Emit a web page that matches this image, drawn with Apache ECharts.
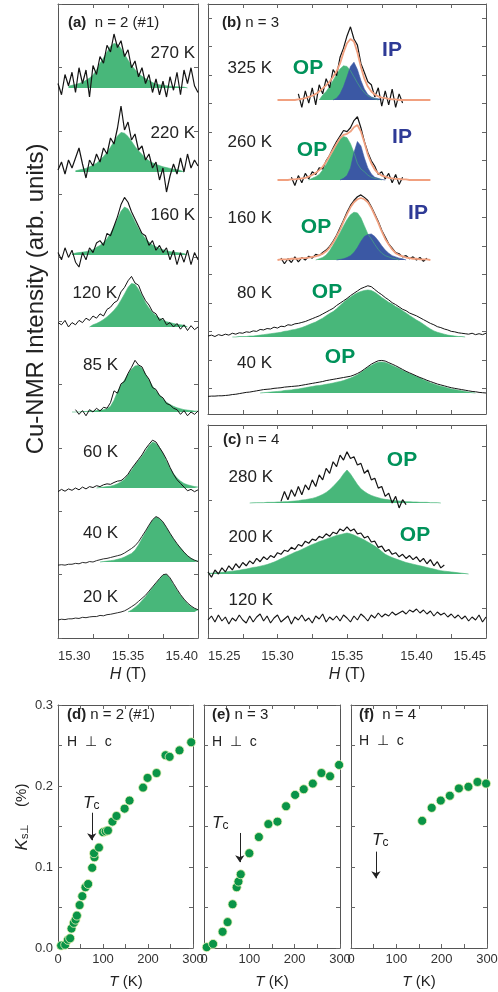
<!DOCTYPE html>
<html><head><meta charset="utf-8">
<script src="https://cdn.jsdelivr.net/npm/echarts@6/dist/echarts.min.js"></script>
<style>html,body{margin:0;padding:0;background:#fff}#c{width:498px;height:992px}</style>
</head><body><div id="c"></div>
<script>
// ---------- field grids (T) ----------
const Ha = [15.3000,15.3025,15.3050,15.3075,15.3100,15.3125,15.3150,15.3175,15.3200,15.3225,
15.3250,15.3275,15.3300,15.3325,15.3350,15.3375,15.3400,15.3425,15.3450,15.3475,
15.3500,15.3525,15.3550,15.3575,15.3600,15.3625,15.3650,15.3675,15.3700,15.3725,
15.3750,15.3775,15.3800,15.3825,15.3850,15.3875,15.3900,15.3925,15.3950,15.3975,
15.4000];
const Hb = [15.2500,15.2525,15.2550,15.2575,15.2600,15.2625,15.2650,15.2675,15.2700,15.2725,
15.2750,15.2775,15.2800,15.2825,15.2850,15.2875,15.2900,15.2925,15.2950,15.2975,
15.3000,15.3025,15.3050,15.3075,15.3100,15.3125,15.3150,15.3175,15.3200,15.3225,
15.3250,15.3275,15.3300,15.3325,15.3350,15.3375,15.3400,15.3425,15.3450,15.3475,
15.3500,15.3525,15.3550,15.3575,15.3600,15.3625,15.3650,15.3675,15.3700,15.3725,
15.3750,15.3775,15.3800,15.3825,15.3850,15.3875,15.3900,15.3925,15.3950,15.3975,
15.4000,15.4025,15.4050,15.4075,15.4100,15.4125,15.4150,15.4175,15.4200,15.4225,
15.4250,15.4275,15.4300,15.4325,15.4350,15.4375,15.4400,15.4425,15.4450,15.4475,
15.4500];

// ---------- panel (a) n=2 : intensity (% of fit peak); first sample index in Ha ----------
const a270fit = [4,6,8,10,13,17,22,29,40,55,67,80,93,99,97,88,75,62,50,41,32,26,21,17,12,9,7,6,5,4,3,3,2,2,0]; // from 3
const a270obs = [10,-15,30,5,35,-10,45,10,40,-20,50,30,70,55,95,80,120,90,105,70,85,45,60,25,45,10,30,-10,20,-15,15,-20,25,-5,35,-15,40,10,45,5,-10];
const a220fit = [3,5,7,9,13,17,22,30,39,49,62,76,90,99,97,89,77,64,53,44,35,28,23,19,16,13,11,9,7,6,4,0]; // from 5
const a220obs = [5,25,-5,30,10,35,60,20,-15,30,15,45,25,60,45,85,70,110,165,105,125,80,95,55,65,30,45,10,25,-20,10,-50,-10,20,-5,35,0,45,10,30,15];
const a160fit = [2,4,5,6,7,9,11,16,20,26,34,45,59,75,91,100,96,84,69,55,44,34,27,21,17,14,11,9,7,6,5,4,3,0]; // from 4
const a160obs = [5,-10,15,-5,10,-15,-25,5,-10,15,5,25,30,20,45,40,60,80,105,120,110,90,75,60,45,40,20,30,10,20,5,15,-10,10,-20,5,-15,10,-20,5,-10];
const a120fit = [0,5,8,12,17,23,30,38,48,61,75,90,99,97,86,71,55,43,33,26,20,16,12,10,8,6,5,4,0]; // from 9
const a120obs = [10,5,15,0,10,5,15,10,20,15,25,20,30,25,40,45,55,60,80,90,105,115,100,95,75,60,50,35,30,15,20,5,10,0,8,-5,5,-8,3,-6,0];
const a85fit = [0,0,0,1,1,2,2,3,4,5,7,12,25,43,57,68,81,91,98,99,93,81,68,55,45,36,28,21,16,12,9,7,5,4,3,2,2]; // from 4
const a85obs = [5,-5,3,-8,5,0,8,2,10,8,20,45,40,60,65,82,95,110,100,96,80,70,52,48,35,30,18,15,8,5,-5,3,-8,0,-5,2]; // from 5
const a60fit = [0,1,2,3,4,6,9,13,19,28,38,50,60,69,80,92,100,97,88,75,58,43,31,22,15,10,7,5,3,2]; // from 11
const a60obs = [-8,-3,-7,-2,-5,0,-4,2,-2,3,1,5,3,7,9,8,12,15,16,22,30,42,52,62,72,85,95,104,100,88,76,62,45,30,18,10,2,-6,-3,-8,-4];
const a40fit = [0,1,2,3,4,6,8,11,15,19,26,38,52,66,80,93,100,96,88,76,63,51,40,31,22,14,8,4,2]; // from 12
const a40obs = [-7,-6,-7,-5,-5,-3,-4,-1,-2,1,0,3,5,7,8,10,12,14,16,20,25,30,36,45,57,69,82,94,101,97,89,77,64,52,41,31,22,14,8,4,1];
const a20fit = [0,5,12,20,30,40,52,64,75,86,97,99,88,72,57,44,32,22,14,9,5]; // from 20
const a20obs = [-21,-19,-20,-18,-18,-16,-17,-14,-15,-13,-12,-12,-9,-10,-7,-6,-4,-2,0,3,8,14,20,28,36,44,55,66,77,88,98,100,90,75,60,46,34,24,16,10,6];

// ---------- panel (b) n=3 ----------
const b325op  = [0,8,14,22,32,42,51,56,55,48,38,28,19,12,7,4,2,0]; // from 32
const b325ip  = [0,3,10,22,38,55,62,50,32,18,9,5,3,2,0]; // from 36
const b325tot = [0,0,0,0,0,0,1,2,3,5,7,10,14,19,24,30,38,47,60,78,93,100,96,78,54,35,22,14,9,6,4,3,2,1,1,0,0,0,0,0,0,0,0,0,0]; // from 20
const b325obs = [10,-12,15,-5,20,-8,25,10,35,20,50,40,70,85,105,120,100,90,60,45,30,25,5,20,-10,15,-8,18,-12,10,-5]; // from 26
const b260op  = [0,3,6,10,18,28,40,52,64,74,79,77,66,50,30,20,15,9,5,3,2,0]; // from 29
const b260ip  = [0,3,8,22,50,70,62,40,22,11,5,3,1,0]; // from 38
const b260tot = [0,0,0,0,1,1,2,3,4,6,9,13,18,24,33,44,55,66,76,82,84,88,96,100,88,68,46,30,19,12,8,6,4,3,2,2,1,1,0,0,0,0,0,0,0]; // from 20
const b260obs = [5,-10,8,-5,12,2,15,10,22,20,35,45,58,70,80,90,88,95,108,115,95,70,50,35,25,10,15,2,12,-5,10,-8,5]; // from 24
const b160op  = [0,2,4,8,15,24,34,44,55,65,73,77,76,68,55,42,34,25,17,11,7,5,3,2,0]; // from 31
const b160ip  = [0,1,2,4,7,12,20,30,38,41,42,38,31,23,16,11,7,5,3,2,0]; // from 37
const b160tot = [0,1,1,1,2,2,2,3,3,4,5,6,8,10,14,20,28,38,49,62,74,85,93,98,100,98,93,84,72,60,46,34,25,17,11,8,6,4,3,2,2,1,1,1,0]; // from 20
const b160obs = [3,-6,2,-4,5,-3,4,0,6,3,9,7,12,16,22,30,40,52,64,77,88,96,102,105,101,96,86,74,62,48,37,26,19,12,10,5,7,2,5,0,4,-2,3]; // from 21
const b80fit = [0,0,1,1,1,2,2,3,4,5,6,7,8,9,10,12,13,15,16,18,20,23,26,29,32,36,40,45,50,54,60,67,74,80,85,90,94,97,99,100,
99,95,90,84,79,74,70,65,61,56,51,46,41,36,32,27,22,17,13,10,8,6,4,3,2,1,1,0]; // from 7
const b80obs = [2,4,1,5,3,6,4,8,6,9,8,11,10,13,12,16,15,18,17,21,19,23,22,26,25,28,29,31,33,36,39,42,45,49,53,57,61,67,72,77,
82,88,93,98,103,106,109,107,101,95,90,84,79,73,69,64,59,56,51,48,45,41,37,33,29,26,22,20,17,15,12,11,9,8,7,6,8,5,7,5,8];
const b40fit = [0,1,2,3,4,5,6,8,9,10,12,13,15,17,19,21,23,24,26,28,30,32,35,37,40,44,48,53,59,66,74,82,89,95,99,100,98,94,89,84,
79,73,68,63,58,53,48,43,38,33,29,25,22,19,16,13,11,9,7,5,3,1,0]; // from 15
const b40obs = [-11,-10,-10,-9,-9,-8,-7,-5,-4,-2,0,2,3,5,7,9,11,12,13,15,16,17,19,20,21,22,23,25,27,29,31,33,35,37,40,42,44,46,48,50,
52,54,58,63,69,77,85,93,99,104,105,103,98,93,88,82,76,70,65,60,55,50,46,41,37,33,29,26,23,20,17,15,13,11,9,7,5,4,2,1,0];

// ---------- panel (c) n=4 ----------
const c280fit = [0,0.5,1,1,1,2,2,2,3,3,4,4,5,6,7,9,10,12,14,17,21,26,32,40,50,61,73,88,100,88,72,56,43,35,28,23,19,16,13,11,
10,8,7,6,5,4,4,3,3,2,2,2,1,1,1,0]; // from 12
const c280obs = [5,35,10,40,20,50,25,55,40,70,50,85,70,105,90,125,110,145,130,155,135,140,115,120,90,100,70,75,45,50,20,30,0,20,-15,10,-5]; // from 21
const c200fit = [1,2,3,3,4,5,6,7,8,9,11,12,14,16,17,19,21,23,26,29,33,37,41,45,49,53,56,60,64,68,72,75,79,82,85,88,91,94,96,98,
100,98,95,91,87,83,78,73,68,62,55,48,44,40,37,34,31,28,26,24,22,20,18,16,14,12,10,8,7,6,5,4,3,2,1,0];
const c200obs = [5,-8,10,0,15,5,20,10,25,15,28,20,32,25,38,30,42,35,45,40,52,48,58,55,65,60,72,68,80,75,85,82,92,88,98,92,102,98,110,105,
115,105,110,98,100,88,92,78,80,65,68,55,60,48,52,42,48,38,45,35,42,30,38,25,35,20,30,15,22];
const c120obs = [0,20,-10,25,-5,15,-20,10,-5,25,0,-15,20,-10,15,30,-5,20,-15,10,25,-10,5,20,-20,15,0,25,-5,10,
-15,20,5,30,-10,15,0,20,-5,25,10,-10,20,0,30,15,-5,25,10,35,15,30,20,40,25,35,45,30,50,40,
55,35,50,30,45,20,40,25,35,15,30,10,25,5,20,-5,15,0,25,-10,15];

// ---------- Knight shift K_s (%) vs T (K) ----------
const d_T = [7,16,22,27,30,35,39,42,48,54,61,67,76,81,80,91,100,106,111,121,130,148,159,189,199,219,239,248,270,296];
const d_K = [0.003,0.004,0.010,0.012,0.024,0.031,0.035,0.040,0.053,0.064,0.075,0.079,0.099,0.112,0.117,0.124,0.143,0.144,0.145,0.156,0.163,0.172,0.182,0.198,0.210,0.216,0.238,0.236,0.244,0.254];
const e_T = [6,20,41,52,63,72,76,81,100,121,142,162,181,201,220,240,259,278,298];
const e_K = [0.001,0.005,0.020,0.032,0.054,0.075,0.082,0.091,0.117,0.137,0.153,0.156,0.175,0.189,0.196,0.203,0.216,0.212,0.226];
const f_T = [157,178,198,218,238,259,279,298];
const f_K = [0.157,0.173,0.182,0.188,0.197,0.199,0.205,0.203];
const Tc = [75, 79, 55];
const TcArrowK = [[0.167,0.133],[0.142,0.106],[0.119,0.086]];

// ---------- build ----------
const FONT = '"Liberation Sans", Arial, sans-serif';
const GREEN = '#48b77a', BLUE = '#3b58a4', FITC = '#f1a07f', OBS = '#141414';
const grid = [], xAxis = [], yAxis = [], series = [], graphic = [];
const seg = (H, s, v) => v.map((y, k) => [H[s + k], y]);

function frame(o) {
  const gi = grid.length;
  grid.push({left:o.left, top:o.top, width:o.width, height:o.height, outerBoundsMode:'none', containLabel:false});
  const lineS = {show:true, onZero:false, lineStyle:{color:'#555', width:1}};
  const tickS = {show:true, inside:true, length:4, lineStyle:{color:'#666', width:1}};
  const xb = {gridIndex:gi, type:'value', position:'bottom', min:o.xmin, max:o.xmax, interval:o.xint,
    axisLine:lineS, axisTick:tickS, splitLine:{show:false},
    axisLabel: o.xfmt ? {show:true, formatter:o.xfmt, color:'#333', fontSize:13, fontFamily:FONT, margin:o.xmargin,
      alignMinLabel:o.edgeAlign?'left':undefined, alignMaxLabel:o.edgeAlign?'right':undefined, hideOverlap:false} : {show:false}};
  xAxis.push(xb);
  xAxis.push({gridIndex:gi, type:'value', position:'top', min:o.xmin, max:o.xmax, interval:o.xint,
    axisLine:lineS, axisTick:tickS, splitLine:{show:false}, axisLabel:{show:false}});
  const yt = o.yTicks ? Object.assign({}, tickS, {customValues:o.yTicks}) : tickS;
  const yl = {gridIndex:gi, type:'value', position:'left', min:o.ymin, max:o.ymax, axisLine:lineS, axisTick:yt, splitLine:{show:false},
    axisLabel: o.yfmt ? {show:true, formatter:o.yfmt, color:'#333', fontSize:13, fontFamily:FONT, margin:5} : {show:false}};
  if (!o.yTicks) yl.interval = o.yint;
  yAxis.push(yl);
  const yr = {gridIndex:gi, type:'value', position:'right', min:o.ymin, max:o.ymax, axisLine:lineS, axisTick:yt, splitLine:{show:false}, axisLabel:{show:false}};
  if (!o.yTicks) yr.interval = o.yint;
  yAxis.push(yr);
  return {x:xAxis.length-2, y:yAxis.length-2};
}
function sub(left, width, xmin, xmax, base, h) {
  const gi = grid.length;
  grid.push({left, width, top:base-h, height:h, outerBoundsMode:'none', containLabel:false});
  xAxis.push({gridIndex:gi, type:'value', min:xmin, max:xmax, show:false});
  yAxis.push({gridIndex:gi, type:'value', min:0, max:100, show:false});
  return {x:xAxis.length-1, y:yAxis.length-1};
}
function area(ax, data, color) {
  series.push({type:'line', xAxisIndex:ax.x, yAxisIndex:ax.y, data, symbol:'none', clip:false, silent:true,
    lineStyle:{width:0.6, color}, areaStyle:{color, opacity:1}, z:2});
}
function trace(ax, data, color, width, z) {
  series.push({type:'line', xAxisIndex:ax.x, yAxisIndex:ax.y, data, symbol:'none', clip:false, silent:true,
    lineStyle:{width, color}, z:z||3});
}
function txt(x, y, text, size, o) {
  o = o || {};
  graphic.push({type:'text', x, y, rotation:o.rot||0, silent:true, z:10,
    style:{text, fill:o.color||'#222', align:o.align||'left', verticalAlign:'middle',
      font:(o.italic?'italic ':'')+(o.bold?'bold ':'')+size+'px '+FONT, rich:o.rich}});
}

const fmtH = v => (Math.round(v*1000) % 50 === 0) ? v.toFixed(2) : '';
// frames
frame({left:58, top:4, width:140, height:634, xmin:15.30, xmax:15.40, xint:0.025, ymin:0, ymax:10, yint:1, xfmt:fmtH, xmargin:12, edgeAlign:true});
frame({left:208, top:4, width:278, height:410, xmin:15.25, xmax:15.45, xint:0.025, ymin:0, ymax:14.4, yTicks:[0.9,1.9,2.9,3.9,4.9,5.9,6.9,7.9,8.9,9.9,10.9,11.9,12.9,13.9]});
frame({left:208, top:425, width:278, height:213, xmin:15.25, xmax:15.45, xint:0.025, ymin:0, ymax:3.94, yTicks:[0.556,1.556,2.556,3.556], xfmt:fmtH, xmargin:12, edgeAlign:true});

// panel (a)
const LA = [58, 140, 15.30, 15.40];
const aSpec = [
  [a270fit,3,a270obs,0,88,45,1.2],[a220fit,5,a220obs,0,172,40,1.2],[a160fit,4,a160obs,0,255,48,1.1],[a120fit,9,a120obs,0,327,44,1.0],
  [a85fit,4,a85obs,5,412,47,1.0],[a60fit,11,a60obs,0,488,46,1.0],[a40fit,12,a40obs,0,562,45,0.9],[a20fit,20,a20obs,0,612,38,0.9]];
aSpec.forEach(s => {
  const ax = sub(LA[0], LA[1], LA[2], LA[3], s[4], s[5]);
  area(ax, seg(Ha, s[1], s[0]), GREEN);
  trace(ax, seg(Ha, s[3], s[2]), OBS, s[6], 3);
});
// panel (b)
const LB = [208, 278, 15.25, 15.45];
[[b325op,32,b325ip,36,b325tot,20,b325obs,26,100,61],[b260op,29,b260ip,38,b260tot,20,b260obs,24,180,55],[b160op,31,b160ip,37,b160tot,20,b160obs,21,260,62]].forEach(s => {
  const ax = sub(LB[0], LB[1], LB[2], LB[3], s[8], s[9]);
  area(ax, seg(Hb, s[1], s[0]), GREEN);
  area(ax, seg(Hb, s[3], s[2]), BLUE);
  trace(ax, seg(Hb, s[7], s[6]), OBS, 1.2, 3);
  trace(ax, seg(Hb, s[5], s[4]), FITC, 1.8, 4);
});
[[b80fit,7,b80obs,0,337,47],[b40fit,15,b40obs,0,393,31]].forEach(s => {
  const ax = sub(LB[0], LB[1], LB[2], LB[3], s[4], s[5]);
  area(ax, seg(Hb, s[1], s[0]), GREEN);
  trace(ax, seg(Hb, s[3], s[2]), OBS, 1.0, 3);
});
// panel (c)
[[c280fit,12,c280obs,21,503,33],[c200fit,0,c200obs,0,574,41]].forEach(s => {
  const ax = sub(LB[0], LB[1], LB[2], LB[3], s[4], s[5]);
  area(ax, seg(Hb, s[1], s[0]), GREEN);
  trace(ax, seg(Hb, s[3], s[2]), OBS, 1.2, 3);
});
{ const ax = sub(LB[0], LB[1], LB[2], LB[3], 620, 20); trace(ax, seg(Hb, 0, c120obs), OBS, 1.1, 3); }

// bottom panels
const fmtT = v => (v % 100 === 0) ? String(v) : '';
const fmtK = v => (Math.round(v*100) % 10 === 0) ? v.toFixed(1) : '';
const bottom = [[58,135,d_T,d_K,true],[204,136,e_T,e_K,false],[351,136,f_T,f_K,false]];
bottom.forEach((b, k) => {
  const ax = frame({left:b[0], top:705, width:b[1], height:243, xmin:0, xmax:300, xint:50, ymin:0, ymax:0.3, yint:0.05,
    xfmt:fmtT, xmargin:5, yfmt:b[4]?fmtK:null});
  series.push({type:'scatter', xAxisIndex:ax.x, yAxisIndex:ax.y, data:b[2].map((t,i)=>[t,b[3][i]]), symbolSize:9, silent:true,
    itemStyle:{color:'#0a9447', borderColor:'#eef3b8', borderWidth:0.8, opacity:1}, z:3,
    markLine:{silent:true, symbol:['none','arrow'], symbolSize:7, label:{show:false}, animation:false,
      lineStyle:{color:'#222', width:1, type:'solid'},
      data:[[{coord:[Tc[k], TcArrowK[k][0]]},{coord:[Tc[k], TcArrowK[k][1]]}]]}});
});

// ---------- texts ----------
txt(36, 299, 'Cu-NMR Intensity (arb. units)', 24, {rot:Math.PI/2, align:'center'});
const pl = (x, y, tag, rest) => txt(x, y, '{b|' + tag + '}' + rest, 15,
  {rich:{b:{fontWeight:'bold', fontSize:15, fontFamily:FONT, fill:'#222'}}});
pl(68, 23, '(a)', '  n = 2 (#1)');
pl(222, 23, '(b)', ' n = 3');
pl(223, 440, '(c)', ' n = 4');
pl(67, 715, '(d)', ' n = 2 (#1)');
pl(212, 715, '(e)', ' n = 3');
pl(359, 715, '(f)', '  n = 4');
txt(67, 742, 'H  \u22a5  c', 14); txt(212, 742, 'H  \u22a5  c', 14); txt(359, 741, 'H  \u22a5  c', 14);

[['270 K',195,53],['220 K',195,133],['160 K',195,215],['120 K',117,293],['85 K',118,365],['60 K',118,452],['40 K',118,533],['20 K',118,597],
 ['325 K',272,68],['260 K',272,142],['160 K',272,218],['80 K',272,293],['40 K',272,363],
 ['280 K',273,477],['200 K',273,537],['120 K',273,600]].forEach(t => txt(t[1], t[2], t[0], 17, {align:'right'}));

[[308,68],[312,150],[316,227],[327,292],[340,357],[402,460],[415,535]].forEach(p => txt(p[0], p[1], 'OP', 21, {bold:true, color:'#00925a', align:'center'}));
[[392,50],[402,137],[418,213]].forEach(p => txt(p[0], p[1], 'IP', 21, {bold:true, color:'#2e3a96', align:'center'}));

const it = {i:{fontStyle:'italic', fontSize:16, fontFamily:FONT, fill:'#222'}};
txt(128, 675, '{i|H} (T)', 16, {align:'center', rich:it});
txt(347, 675, '{i|H} (T)', 16, {align:'center', rich:it});
const itK = {i:{fontStyle:'italic', fontSize:15, fontFamily:FONT, fill:'#222'}};
txt(126, 982, '{i|T} (K)', 15, {align:'center', rich:itK});
txt(272, 982, '{i|T} (K)', 15, {align:'center', rich:itK});
txt(419, 982, '{i|T} (K)', 15, {align:'center', rich:itK});
txt(22, 817, '{k|K}{s|s\u22a5}    (%)', 15, {rot:Math.PI/2, align:'center',
  rich:{k:{fontStyle:'italic', fontSize:17, fontFamily:FONT, fill:'#222'}, s:{fontSize:11, fontFamily:FONT, fill:'#222', verticalAlign:'bottom'}}});
const tcR = {t:{fontStyle:'italic', fontSize:17, fontFamily:FONT, fill:'#222'}, c:{fontSize:12, fontFamily:FONT, fill:'#222', verticalAlign:'bottom'}};
txt(83, 803, '{t|T}{c|c}', 17, {rich:tcR});
txt(212, 823, '{t|T}{c|c}', 17, {rich:tcR});
txt(372, 840, '{t|T}{c|c}', 17, {rich:tcR});

const chart = echarts.init(document.getElementById('c'), null, {renderer:'canvas'});
chart.setOption({backgroundColor:'#fff', animation:false, grid, xAxis, yAxis, series, graphic});
</script></body></html>
